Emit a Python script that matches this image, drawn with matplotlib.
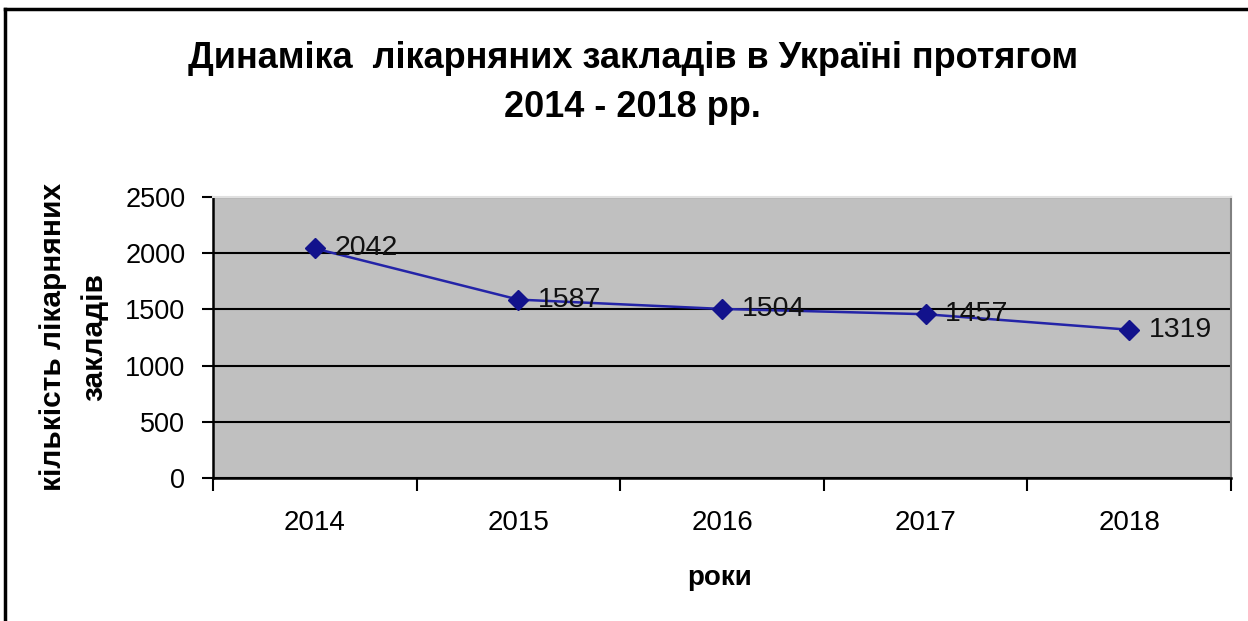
import matplotlib
matplotlib.use("Agg")
import matplotlib.pyplot as plt
from matplotlib.lines import Line2D

years = ["2014", "2015", "2016", "2017", "2018"]
hospitals = [2042, 1587, 1504, 1457, 1319]
yticks = [0, 500, 1000, 1500, 2000, 2500]

title = "Динаміка  лікарняних закладів в Україні протягом\n2014 - 2018 рр."
xlabel = "роки"
ylabel = "кількість лікарняних\nзакладів"

plt.rcParams['font.family'] = ['Liberation Sans', 'DejaVu Sans']

fig = plt.figure(figsize=(12.48, 6.21), dpi=100)
fig.patch.set_facecolor("white")

# figure frame (top and left lines)
fig.add_artist(Line2D([0.004, 0.004], [0, 0.986], transform=fig.transFigure, color="black", lw=2.5))
fig.add_artist(Line2D([0.004, 1.0], [0.986, 0.986], transform=fig.transFigure, color="black", lw=2.5))

ax = fig.add_axes([0.1707, 0.2303, 0.8157, 0.4525])
ax.set_facecolor("#c0c0c0")

x = list(range(len(years)))
ax.plot(x, hospitals, color="#2424a8", lw=1.8, marker="D", markersize=10,
        markerfacecolor="#12128c", markeredgecolor="#12128c", zorder=3)
for xi, v in zip(x, hospitals):
    ax.annotate(str(v), (xi, v), xytext=(14, 0), textcoords="offset points",
                va="center", ha="left", fontsize=20.5, color="#111111", zorder=4)

ax.set_xlim(-0.5, len(years) - 0.5)
ax.set_ylim(0, 2500)
ax.set_yticks(yticks)
ax.set_yticklabels([str(t) for t in yticks], fontsize=19.5)
ax.yaxis.grid(True, color="black", lw=1.5)
ax.set_axisbelow(True)

# category boundaries as major ticks, labels at centers as minor ticks
ax.set_xticks([i - 0.5 for i in range(len(years) + 1)])
ax.set_xticklabels([])
ax.set_xticks(x, minor=True)
ax.set_xticklabels(years, minor=True, fontsize=20)
ax.tick_params(axis="x", which="major", direction="out", length=9, width=1.5, color="black")
ax.tick_params(axis="x", which="minor", length=0, pad=23)
ax.tick_params(axis="y", direction="out", length=8, width=1.5, pad=12)

for s in ["left", "bottom"]:
    ax.spines[s].set_color("black")
    ax.spines[s].set_linewidth(1.8)
ax.spines["top"].set_color("#e0e0e0")
ax.spines["top"].set_linewidth(1.5)
ax.spines["right"].set_color("#808080")
ax.spines["right"].set_linewidth(1.5)

fig.text(0.507, 0.866, title, ha="center", va="center", fontsize=26,
         fontweight="bold", linespacing=1.5)
fig.text(0.577, 0.069, xlabel, ha="center", va="center", fontsize=20, fontweight="bold")
fig.text(0.0593, 0.457, ylabel, ha="center", va="center", rotation=90, fontsize=21.5,
         fontweight="bold", linespacing=1.6)

fig.savefig("out.png", dpi=100)
